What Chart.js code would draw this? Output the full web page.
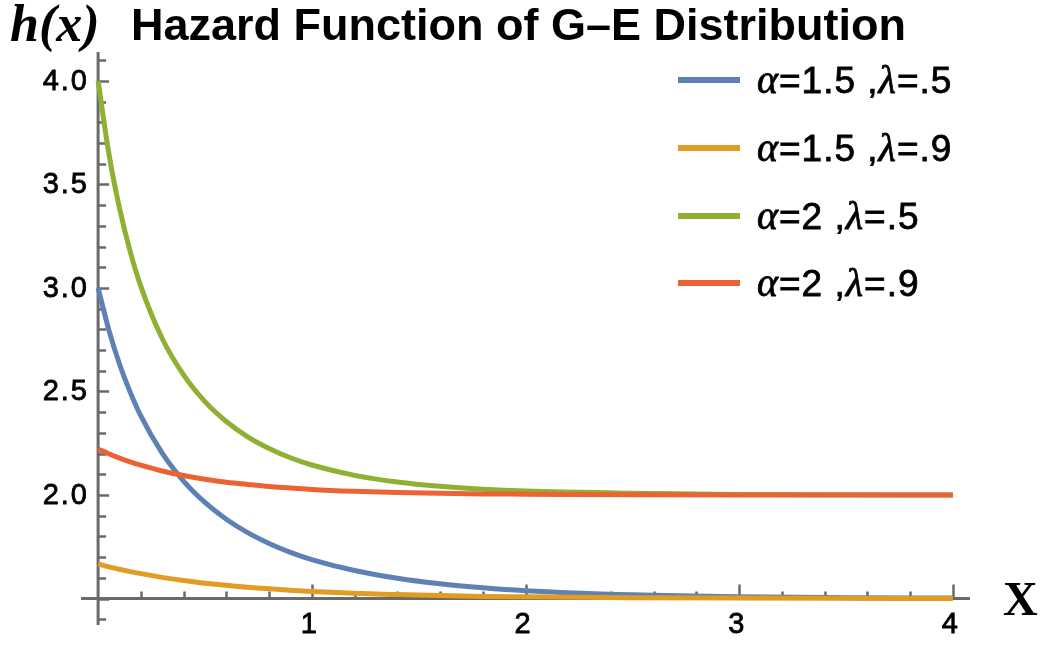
<!DOCTYPE html>
<html>
<head>
<meta charset="utf-8">
<title>Hazard Function of G-E Distribution</title>
<script src="https://cdn.jsdelivr.net/npm/chart.js@4.4.1/dist/chart.umd.min.js"></script>
<style>
  html, body { margin: 0; padding: 0; background: #fff; }
  #wrap { width: 1042px; height: 645px; }
</style>
</head>
<body>
<div id="wrap"><canvas id="hazard" width="1042" height="645"></canvas></div>
<script>
// sample points along x and the hazard curves h(x) for each parameter pair
const xValues = [0, 0.05, 0.1, 0.15, 0.2, 0.3, 0.4, 0.5, 0.6, 0.7, 0.8, 0.9, 1.0, 1.2, 1.4, 1.6, 1.8, 2.0, 2.5, 3.0, 3.5, 4.0];

const hA15L05 = [3.000, 2.798, 2.633, 2.497, 2.382, 2.202, 2.067, 1.964, 1.883, 1.818, 1.766, 1.723, 1.688, 1.635, 1.598, 1.571, 1.552, 1.538, 1.518, 1.508, 1.504, 1.502];
const hA15L09 = [1.667, 1.653, 1.641, 1.630, 1.620, 1.602, 1.587, 1.574, 1.564, 1.554, 1.547, 1.540, 1.534, 1.525, 1.519, 1.514, 1.510, 1.508, 1.504, 1.502, 1.501, 1.500];
const hA2L05 = [4.000, 3.652, 3.386, 3.177, 3.008, 2.756, 2.580, 2.451, 2.355, 2.281, 2.225, 2.180, 2.145, 2.095, 2.063, 2.042, 2.028, 2.019, 2.008, 2.002, 2.001, 2.000];
const hA2L09 = [2.222, 2.199, 2.178, 2.160, 2.144, 2.116, 2.094, 2.076, 2.062, 2.051, 2.041, 2.034, 2.027, 2.018, 2.012, 2.008, 2.005, 2.004, 2.001, 2.000, 2.000, 2.000];

const seriesLabels = [
  [["α", true], ["=1.5 ,", false], ["λ", true], ["=.5", false]],
  [["α", true], ["=1.5 ,", false], ["λ", true], ["=.9", false]],
  [["α", true], ["=2 ,", false], ["λ", true], ["=.5", false]],
  [["α", true], ["=2 ,", false], ["λ", true], ["=.9", false]],
];
const seriesColors = ["#5E81B5", "#E19C24", "#8FB032", "#EB6235"];

const xMajorTicks = [1, 2, 3, 4];
const xTickLabels = ["1", "2", "3", "4"];
const yMajorTicks = [2.0, 2.5, 3.0, 3.5, 4.0];
const yTickLabels = ["2.0", "2.5", "3.0", "3.5", "4.0"];

const AXIS_COLOR = "#6a6a6a";
const TICK_FONT = '29px "Liberation Sans", Arial, sans-serif';

function points(ys) {
  return xValues.map((x, i) => ({ x, y: ys[i] }));
}

// fill plus a thin outline so the text reads a little heavier
function heavyText(ctx, txt, x, y) {
  ctx.fillText(txt, x, y);
  ctx.strokeText(txt, x, y);
}

// axes cross at (0, 1.5), ticks point inward like a Mathematica Plot
const axesPlugin = {
  id: "axesFrame",
  beforeDatasetsDraw(chart) {
    const { ctx, scales: { x, y } } = chart;
    const x0 = x.getPixelForValue(0);
    const y0 = y.getPixelForValue(1.5);
    ctx.save();
    ctx.strokeStyle = AXIS_COLOR;
    ctx.lineWidth = 3;
    ctx.beginPath();
    ctx.moveTo(x.left, y0);
    ctx.lineTo(x.right, y0);
    ctx.moveTo(x0, y.top);
    ctx.lineTo(x0, y.bottom);
    ctx.stroke();

    // x ticks: minor every 0.2, major every 1
    ctx.lineWidth = 2.5;
    ctx.beginPath();
    for (let i = 1; i <= 20; i++) {
      const v = i * 0.2;
      const px = Math.round(x.getPixelForValue(v)) + 0.5;
      const len = i % 5 === 0 ? 14 : 7;
      ctx.moveTo(px, y0);
      ctx.lineTo(px, y0 - len);
    }
    // y ticks: minor every 0.1, major every 0.5
    for (let i = 14; i <= 41; i++) {
      const v = i / 10;
      const py = Math.round(y.getPixelForValue(v)) + 0.5;
      const len = i % 5 === 0 ? 11 : 8;
      ctx.moveTo(x0, py);
      ctx.lineTo(x0 + len, py);
    }
    ctx.stroke();

    ctx.fillStyle = "#000";
    ctx.strokeStyle = "#000";
    ctx.lineWidth = 0.8;
    ctx.font = TICK_FONT;
    ctx.letterSpacing = "2px";
    ctx.textAlign = "center";
    ctx.textBaseline = "middle";
    xMajorTicks.forEach((v, i) => {
      heavyText(ctx, xTickLabels[i], x.getPixelForValue(v) - 2, 625);
    });
    ctx.textAlign = "right";
    yMajorTicks.forEach((v, i) => {
      heavyText(ctx, yTickLabels[i], 89, y.getPixelForValue(v) + 1);
    });
    ctx.restore();
  },
  afterDraw(chart) {
    const { ctx } = chart;
    ctx.save();
    ctx.fillStyle = "#000";
    ctx.textBaseline = "alphabetic";
    ctx.textAlign = "left";

    ctx.font = 'bold italic 52px "Liberation Serif", "Times New Roman", serif';
    ctx.fillText("h(x)", 10, 41);
    ctx.font = 'bold 48px "Liberation Serif", "Times New Roman", serif';
    ctx.fillText("X", 1003, 615);
    ctx.font = 'bold 45px "Liberation Sans", Arial, sans-serif';
    ctx.fillText("Hazard Function of G\u2013E Distribution", 131, 40);

    // legend: swatch then label with italic greek letters
    const rows = [80, 148, 216, 283];
    ctx.strokeStyle = "#000";
    ctx.lineWidth = 0.8;
    seriesLabels.forEach((parts, i) => {
      const ry = rows[i];
      ctx.fillStyle = seriesColors[i];
      ctx.fillRect(678, ry - 3, 62, 6);
      let tx = 757;
      ctx.fillStyle = "#000";
      ctx.letterSpacing = "1px";
      parts.forEach(([txt, italic]) => {
        ctx.font = italic
          ? 'italic 40px "Liberation Serif", "Times New Roman", serif'
          : '37px "Liberation Sans", Arial, sans-serif';
        heavyText(ctx, txt, tx, ry + 13);
        tx += ctx.measureText(txt).width;
      });
    });
    ctx.restore();
  },
};

const datasets = [hA15L05, hA15L09, hA2L05, hA2L09].map((ys, i) => ({
  label: seriesLabels[i].map((p) => p[0]).join(""),
  data: points(ys),
  borderColor: seriesColors[i],
  borderWidth: 5,
  pointRadius: 0,
  fill: false,
  cubicInterpolationMode: "monotone",
  order: 3 - i,
}));

new Chart(document.getElementById("hazard"), {
  type: "line",
  data: { datasets },
  options: {
    responsive: false,
    animation: false,
    events: [],
    layout: { padding: { left: 81, right: 72, top: 52, bottom: 20 } },
    plugins: { legend: { display: false }, tooltip: { enabled: false } },
    scales: {
      x: { type: "linear", min: -0.08, max: 4.08, display: false },
      y: { type: "linear", min: 1.372, max: 4.14, display: false },
    },
  },
  plugins: [axesPlugin],
});
</script>
</body>
</html>
